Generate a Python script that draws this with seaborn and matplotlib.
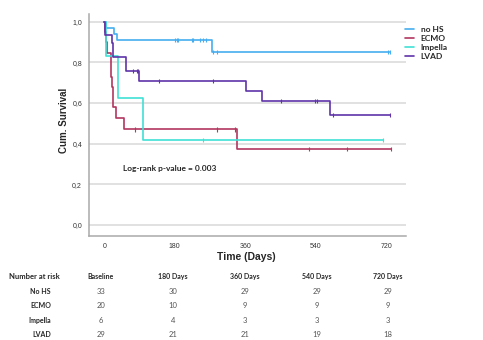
import numpy as np
import pandas as pd
import matplotlib
matplotlib.use("Agg")
import matplotlib.pyplot as plt
from matplotlib.lines import Line2D
import seaborn as sns

# ---- data ----
groups = ["no HS", "ECMO", "Impella", "LVAD"]
colors = ["#45aef0", "#b2365f", "#3fe0d6", "#5e34a8"]

nohs_t = [0, 4, 25, 32, 275, 731]
nohs_s = [1.0, 0.970, 0.939, 0.909, 0.850, 0.850]
nohs_cens = [181, 185, 189, 223, 227, 244, 252, 261, 279, 287, 726, 731]

ecmo_t = [0, 2, 4, 8, 16, 19, 23, 29, 50, 340, 732]
ecmo_s = [1.0, 0.95, 0.90, 0.845, 0.73, 0.68, 0.58, 0.525, 0.47, 0.375, 0.375]
ecmo_cens = [78, 287, 334, 523, 621, 732]

impella_t = [0, 4, 35, 100, 712]
impella_s = [1.0, 0.833, 0.625, 0.417, 0.417]
impella_cens = [253, 712]

lvad_t = [0, 2, 19, 23, 55, 90, 362, 402, 576, 731]
lvad_s = [1.0, 0.933, 0.897, 0.828, 0.756, 0.710, 0.660, 0.611, 0.543, 0.543]
lvad_cens = [74, 83, 87, 141, 277, 452, 539, 543, 584, 731]

risk_cols = ["Baseline", "180 Days", "360 Days", "540 Days", "720 Days"]
risk_rows = ["No HS", "ECMO", "Impella", "LVAD"]
risk_nohs = [33, 30, 29, 29, 29]
risk_ecmo = [20, 10, 9, 9, 9]
risk_impella = [6, 4, 3, 3, 3]
risk_lvad = [29, 21, 21, 19, 18]

pvalue_text = "Log-rank p-value = 0.003"

# ---- build tables ----
curves = [(nohs_t, nohs_s, nohs_cens), (ecmo_t, ecmo_s, ecmo_cens),
          (impella_t, impella_s, impella_cens), (lvad_t, lvad_s, lvad_cens)]
line_rows, cens_rows = [], []
for g, (t, s, c) in zip(groups, curves):
    for ti, si in zip(t, s):
        line_rows.append({"group": g, "time": ti, "surv": si})
    t_arr = np.asarray(t)
    s_arr = np.asarray(s)
    for ci in c:
        idx = np.searchsorted(t_arr, ci, side="right") - 1
        cens_rows.append({"group": g, "time": ci, "surv": s_arr[idx]})
lines_df = pd.DataFrame(line_rows)
cens_df = pd.DataFrame(cens_rows)
palette = dict(zip(groups, colors))

# ---- figure ----
sns.set_style("white")
plt.rcParams["font.family"] = ["Liberation Sans", "DejaVu Sans"]
W, H = 483, 340
fig = plt.figure(figsize=(W / 100, H / 100), dpi=100)
ax = fig.add_axes([89 / W, 1 - 236 / H, (406 - 89) / W, (236 - 14) / H])

for g in groups:
    sub = lines_df[lines_df.group == g]
    sns.lineplot(data=sub, x="time", y="surv", color=palette[g], ax=ax,
                 estimator=None, sort=False, drawstyle="steps-post",
                 linewidth=1.2, legend=False)
sns.scatterplot(data=cens_df, x="time", y="surv", hue="group", palette=palette,
                marker="|", s=9, linewidth=0.8, ax=ax, legend=False, zorder=3)

ax.set_xlim(-39, 771)
ax.set_ylim(-0.054, 1.038)
ax.set_xticks([0, 180, 360, 540, 720])
ax.set_yticks([0.0, 0.2, 0.4, 0.6, 0.8, 1.0])
ax.set_yticklabels([f"{v:.1f}".replace(".", ",") for v in [0.0, 0.2, 0.4, 0.6, 0.8, 1.0]])
ax.tick_params(axis="both", length=0, labelsize=5, colors="#333333", pad=5)
ax.yaxis.grid(True, color="#d9d9d9", linewidth=1.1)
ax.set_axisbelow(True)
for sp in ["top", "right"]:
    ax.spines[sp].set_visible(False)
for sp in ["left", "bottom"]:
    ax.spines[sp].set_color("#aaaaaa")
    ax.spines[sp].set_linewidth(1.1)
ax.set_xlabel("")
ax.set_ylabel("")

fig.text(64 / W, 1 - 120 / H, "Cum. Survival", rotation=90, ha="center", va="center",
         fontsize=7, fontweight="bold")
fig.text(246 / W, 1 - 257 / H, "Time (Days)", ha="center", va="center",
         fontsize=7.5, fontweight="bold")

ax.text(123 / W, 1 - 168 / H, pvalue_text, transform=fig.transFigure, ha="left",
        va="center", fontsize=6, fontweight="bold", family=["Lato", "DejaVu Sans"])

handles = [Line2D([0], [0], color=c, lw=1.2) for c in colors]
ax.legend(handles, groups, loc="upper left", bbox_to_anchor=(405 / W, 1 - 26 / H),
          bbox_transform=fig.transFigure, frameon=False, handlelength=1.1,
          handletextpad=0.8, labelspacing=0.25, borderpad=0, borderaxespad=0,
          prop={"family": ["Lato", "DejaVu Sans"], "weight": "bold", "size": 6})

# ---- number at risk table ----
col_x = [101, 173, 245, 317, 388]
row_y = [290.7, 305, 320, 334]
tbl_font = ["Lato", "DejaVu Sans"]
fig.text(60 / W, 1 - 275.7 / H, "Number at risk", ha="right", va="center_baseline",
         fontsize=5.5, fontweight="bold", family=tbl_font)
for x, lab in zip(col_x, risk_cols):
    fig.text(x / W, 1 - 275.7 / H, lab, ha="center", va="center_baseline",
             fontsize=5, fontweight="bold", family=tbl_font)
for y, lab, vals in zip(row_y, risk_rows, [risk_nohs, risk_ecmo, risk_impella, risk_lvad]):
    fig.text(51 / W, 1 - y / H, lab, ha="right", va="center_baseline",
             fontsize=5, fontweight="bold", family=tbl_font)
    for x, v in zip(col_x, vals):
        fig.text(x / W, 1 - y / H, str(v), ha="center", va="center_baseline",
                 fontsize=5.5, color="#555555", family=tbl_font)

fig.savefig("out.png", dpi=100)
